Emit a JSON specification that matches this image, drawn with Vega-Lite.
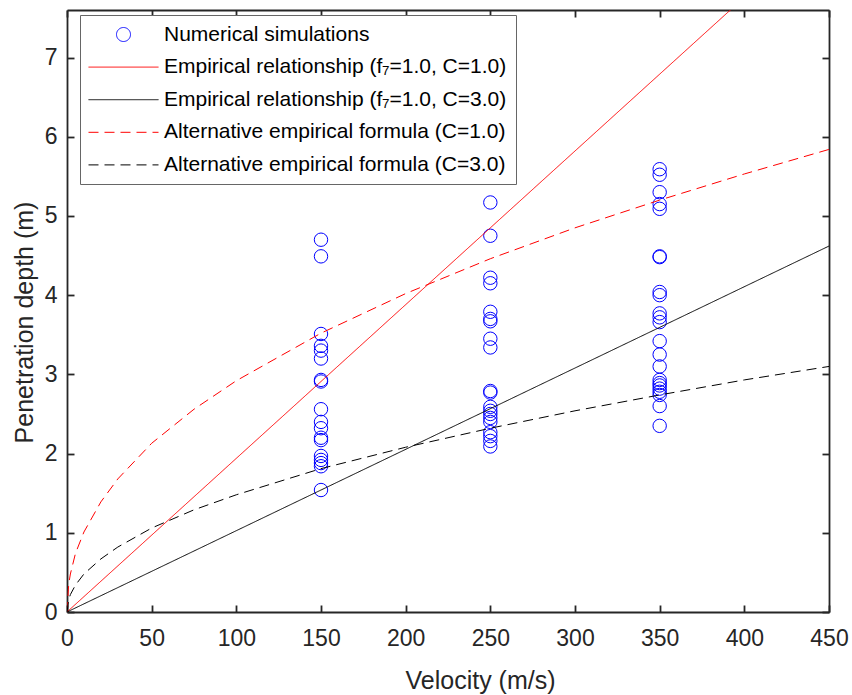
{
  "$schema": "https://vega.github.io/schema/vega-lite/v6.json",
  "width": 762,
  "height": 602,
  "autosize": {"type": "none"},
  "padding": {"left": 67, "top": 10, "right": 23, "bottom": 83},
  "background": "white",
  "config": {
    "view": {"stroke": null},
    "axis": {
      "domainColor": "#262626",
      "tickColor": "#262626",
      "labelColor": "#262626",
      "titleColor": "#262626",
      "labelFont": "Liberation Sans",
      "titleFont": "Liberation Sans",
      "labelFontSize": 23,
      "titleFontSize": 25,
      "titleFontWeight": "normal",
      "grid": false,
      "labelFlush": false,
      "tickSize": -7,
      "domainWidth": 1.8,
      "tickWidth": 1.8
    }
  },
  "datasets": {
    "sim": [
      {"series": "Numerical simulations", "v": 150, "d": 4.70},
      {"series": "Numerical simulations", "v": 150, "d": 4.49},
      {"series": "Numerical simulations", "v": 150, "d": 3.51},
      {"series": "Numerical simulations", "v": 150, "d": 3.36},
      {"series": "Numerical simulations", "v": 150, "d": 3.30},
      {"series": "Numerical simulations", "v": 150, "d": 3.20},
      {"series": "Numerical simulations", "v": 150, "d": 2.93},
      {"series": "Numerical simulations", "v": 150, "d": 2.91},
      {"series": "Numerical simulations", "v": 150, "d": 2.56},
      {"series": "Numerical simulations", "v": 150, "d": 2.40},
      {"series": "Numerical simulations", "v": 150, "d": 2.32},
      {"series": "Numerical simulations", "v": 150, "d": 2.20},
      {"series": "Numerical simulations", "v": 150, "d": 2.17},
      {"series": "Numerical simulations", "v": 150, "d": 1.97},
      {"series": "Numerical simulations", "v": 150, "d": 1.92},
      {"series": "Numerical simulations", "v": 150, "d": 1.88},
      {"series": "Numerical simulations", "v": 150, "d": 1.84},
      {"series": "Numerical simulations", "v": 150, "d": 1.54},
      {"series": "Numerical simulations", "v": 250, "d": 5.17},
      {"series": "Numerical simulations", "v": 250, "d": 4.75},
      {"series": "Numerical simulations", "v": 250, "d": 4.22},
      {"series": "Numerical simulations", "v": 250, "d": 4.15},
      {"series": "Numerical simulations", "v": 250, "d": 3.79},
      {"series": "Numerical simulations", "v": 250, "d": 3.70},
      {"series": "Numerical simulations", "v": 250, "d": 3.67},
      {"series": "Numerical simulations", "v": 250, "d": 3.45},
      {"series": "Numerical simulations", "v": 250, "d": 3.34},
      {"series": "Numerical simulations", "v": 250, "d": 2.79},
      {"series": "Numerical simulations", "v": 250, "d": 2.77},
      {"series": "Numerical simulations", "v": 250, "d": 2.59},
      {"series": "Numerical simulations", "v": 250, "d": 2.54},
      {"series": "Numerical simulations", "v": 250, "d": 2.50},
      {"series": "Numerical simulations", "v": 250, "d": 2.45},
      {"series": "Numerical simulations", "v": 250, "d": 2.40},
      {"series": "Numerical simulations", "v": 250, "d": 2.27},
      {"series": "Numerical simulations", "v": 250, "d": 2.22},
      {"series": "Numerical simulations", "v": 250, "d": 2.16},
      {"series": "Numerical simulations", "v": 250, "d": 2.09},
      {"series": "Numerical simulations", "v": 350, "d": 5.59},
      {"series": "Numerical simulations", "v": 350, "d": 5.52},
      {"series": "Numerical simulations", "v": 350, "d": 5.30},
      {"series": "Numerical simulations", "v": 350, "d": 5.15},
      {"series": "Numerical simulations", "v": 350, "d": 5.09},
      {"series": "Numerical simulations", "v": 350, "d": 4.49},
      {"series": "Numerical simulations", "v": 350, "d": 4.48},
      {"series": "Numerical simulations", "v": 350, "d": 4.04},
      {"series": "Numerical simulations", "v": 350, "d": 4.00},
      {"series": "Numerical simulations", "v": 350, "d": 3.77},
      {"series": "Numerical simulations", "v": 350, "d": 3.72},
      {"series": "Numerical simulations", "v": 350, "d": 3.66},
      {"series": "Numerical simulations", "v": 350, "d": 3.42},
      {"series": "Numerical simulations", "v": 350, "d": 3.25},
      {"series": "Numerical simulations", "v": 350, "d": 3.10},
      {"series": "Numerical simulations", "v": 350, "d": 2.93},
      {"series": "Numerical simulations", "v": 350, "d": 2.89},
      {"series": "Numerical simulations", "v": 350, "d": 2.86},
      {"series": "Numerical simulations", "v": 350, "d": 2.82},
      {"series": "Numerical simulations", "v": 350, "d": 2.78},
      {"series": "Numerical simulations", "v": 350, "d": 2.74},
      {"series": "Numerical simulations", "v": 350, "d": 2.60},
      {"series": "Numerical simulations", "v": 350, "d": 2.35}
    ],
    "lines": [
      {"series": "Empirical relationship (f₇=1.0, C=1.0)", "v": 0, "d": 0},
      {"series": "Empirical relationship (f₇=1.0, C=1.0)", "v": 450, "d": 8.73},
      {"series": "Empirical relationship (f₇=1.0, C=3.0)", "v": 0, "d": 0},
      {"series": "Empirical relationship (f₇=1.0, C=3.0)", "v": 450, "d": 4.62},
      {"series": "Alternative empirical formula (C=1.0)", "v": 0, "d": 0},
      {"series": "Alternative empirical formula (C=1.0)", "v": 1, "d": 0.35},
      {"series": "Alternative empirical formula (C=1.0)", "v": 2, "d": 0.48},
      {"series": "Alternative empirical formula (C=1.0)", "v": 5, "d": 0.74},
      {"series": "Alternative empirical formula (C=1.0)", "v": 10, "d": 1.01},
      {"series": "Alternative empirical formula (C=1.0)", "v": 20, "d": 1.39},
      {"series": "Alternative empirical formula (C=1.0)", "v": 30, "d": 1.68},
      {"series": "Alternative empirical formula (C=1.0)", "v": 50, "d": 2.13},
      {"series": "Alternative empirical formula (C=1.0)", "v": 75, "d": 2.56},
      {"series": "Alternative empirical formula (C=1.0)", "v": 100, "d": 2.92},
      {"series": "Alternative empirical formula (C=1.0)", "v": 150, "d": 3.52},
      {"series": "Alternative empirical formula (C=1.0)", "v": 200, "d": 4.02},
      {"series": "Alternative empirical formula (C=1.0)", "v": 250, "d": 4.46},
      {"series": "Alternative empirical formula (C=1.0)", "v": 300, "d": 4.85},
      {"series": "Alternative empirical formula (C=1.0)", "v": 350, "d": 5.20},
      {"series": "Alternative empirical formula (C=1.0)", "v": 400, "d": 5.53},
      {"series": "Alternative empirical formula (C=1.0)", "v": 450, "d": 5.84},
      {"series": "Alternative empirical formula (C=3.0)", "v": 0, "d": 0},
      {"series": "Alternative empirical formula (C=3.0)", "v": 1, "d": 0.155},
      {"series": "Alternative empirical formula (C=3.0)", "v": 2, "d": 0.22},
      {"series": "Alternative empirical formula (C=3.0)", "v": 5, "d": 0.34},
      {"series": "Alternative empirical formula (C=3.0)", "v": 10, "d": 0.48},
      {"series": "Alternative empirical formula (C=3.0)", "v": 20, "d": 0.67},
      {"series": "Alternative empirical formula (C=3.0)", "v": 30, "d": 0.82},
      {"series": "Alternative empirical formula (C=3.0)", "v": 50, "d": 1.06},
      {"series": "Alternative empirical formula (C=3.0)", "v": 75, "d": 1.29},
      {"series": "Alternative empirical formula (C=3.0)", "v": 100, "d": 1.48},
      {"series": "Alternative empirical formula (C=3.0)", "v": 150, "d": 1.81},
      {"series": "Alternative empirical formula (C=3.0)", "v": 200, "d": 2.08},
      {"series": "Alternative empirical formula (C=3.0)", "v": 250, "d": 2.32},
      {"series": "Alternative empirical formula (C=3.0)", "v": 300, "d": 2.54},
      {"series": "Alternative empirical formula (C=3.0)", "v": 350, "d": 2.74},
      {"series": "Alternative empirical formula (C=3.0)", "v": 400, "d": 2.93},
      {"series": "Alternative empirical formula (C=3.0)", "v": 450, "d": 3.10}
    ]
  },
  "layer": [
    {
      "data": {"name": "sim"},
      "mark": {"type": "point", "filled": false, "size": 180, "strokeWidth": 1, "opacity": 1},
      "encoding": {
        "x": {
          "field": "v", "type": "quantitative",
          "scale": {"domain": [0, 450], "nice": false, "zero": false},
          "axis": {
            "orient": "bottom",
            "values": [0, 50, 100, 150, 200, 250, 300, 350, 400, 450],
            "title": "Velocity (m/s)",
            "labelPadding": 22,
            "titleX": 413, "titleY": 76, "titleAlign": "center", "titleBaseline": "alphabetic"
          }
        },
        "y": {
          "field": "d", "type": "quantitative",
          "scale": {"domain": [0, 7.6], "nice": false, "zero": false},
          "axis": {
            "orient": "left",
            "values": [0, 1, 2, 3, 4, 5, 6, 7],
            "title": "Penetration depth (m)",
            "labelPadding": 17,
            "titleX": -35, "titleY": 312, "titleAngle": 270, "titleAlign": "center", "titleBaseline": "alphabetic"
          }
        },
        "shape": {
          "field": "series", "type": "nominal",
          "scale": {
            "domain": ["Numerical simulations", "Empirical relationship (f₇=1.0, C=1.0)", "Empirical relationship (f₇=1.0, C=3.0)", "Alternative empirical formula (C=1.0)", "Alternative empirical formula (C=3.0)"],
            "range": ["circle", "M-5,0H5", "M-5,0H5", "M-5,0H5", "M-5,0H5"]
          }
        },
        "stroke": {
          "field": "series", "type": "nominal",
          "scale": {
            "domain": ["Numerical simulations", "Empirical relationship (f₇=1.0, C=1.0)", "Empirical relationship (f₇=1.0, C=3.0)", "Alternative empirical formula (C=1.0)", "Alternative empirical formula (C=3.0)"],
            "range": ["#0000ff", "#ff0000", "#000000", "#ff0000", "#000000"]
          },
          "legend": {
            "orient": "none", "legendX": 13, "legendY": 5,
            "title": null, "padding": 9,
            "symbolSize": 196, "symbolStrokeWidth": 1,
            "symbolOffset": 24, "labelOffset": 30,
            "labelFont": "Liberation Sans", "labelFontSize": 21, "labelColor": "#000000", "labelLimit": 600,
            "rowPadding": 10.6,
            "strokeColor": "#666666", "fillColor": "white",
            "encode": {
              "symbols": {
                "update": {
                  "strokeDash": {"signal": "indexof(datum.label, 'Alternative') === 0 ? [10,6] : [1,0]"},
                  "fill": {"value": "transparent"}
                }
              }
            }
          }
        }
      }
    },
    {
      "data": {"name": "lines"},
      "mark": {"type": "line", "strokeWidth": 1, "clip": true},
      "encoding": {
        "x": {
          "field": "v", "type": "quantitative",
          "axis": {"orient": "top", "values": [0, 50, 100, 150, 200, 250, 300, 350, 400, 450], "labels": false, "title": null}
        },
        "y": {
          "field": "d", "type": "quantitative",
          "axis": {"orient": "right", "values": [0, 1, 2, 3, 4, 5, 6, 7], "labels": false, "title": null}
        },
        "stroke": {"field": "series", "type": "nominal"},
        "strokeDash": {
          "field": "series", "type": "nominal",
          "scale": {
            "domain": ["Numerical simulations", "Empirical relationship (f₇=1.0, C=1.0)", "Empirical relationship (f₇=1.0, C=3.0)", "Alternative empirical formula (C=1.0)", "Alternative empirical formula (C=3.0)"],
            "range": [[1, 0], [1, 0], [1, 0], [10, 6], [10, 6]]
          },
          "legend": null
        }
      }
    }
  ],
  "resolve": {"axis": {"x": "independent", "y": "independent"}}
}
